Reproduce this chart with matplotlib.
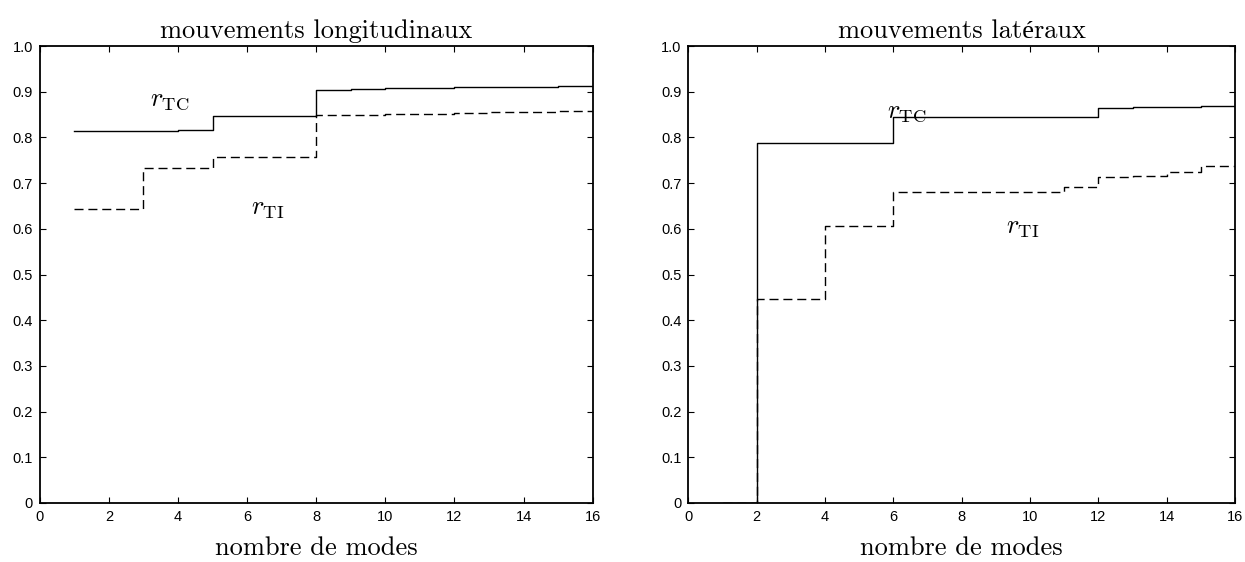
import matplotlib
matplotlib.use("Agg")
import matplotlib.pyplot as plt
import numpy as np

plt.rcParams['mathtext.fontset'] = 'cm'

modes = list(range(1, 17))

# mouvements longitudinaux
long_tc = [0.815, 0.815, 0.815, 0.816, 0.846, 0.846, 0.846, 0.904, 0.907, 0.909,
           0.909, 0.910, 0.911, 0.911, 0.912, 0.912]
long_ti = [0.643, 0.643, 0.733, 0.733, 0.757, 0.757, 0.757, 0.849, 0.850, 0.851,
           0.852, 0.853, 0.855, 0.856, 0.858, 0.858]

# mouvements latéraux
lat_tc = [0.0, 0.787, 0.787, 0.787, 0.787, 0.844, 0.844, 0.844, 0.844, 0.844,
          0.844, 0.864, 0.866, 0.866, 0.868, 0.868]
lat_ti = [0.0, 0.447, 0.447, 0.607, 0.607, 0.681, 0.681, 0.681, 0.681, 0.681,
          0.692, 0.714, 0.715, 0.724, 0.737, 0.737]

titles = ["mouvements longitudinaux", "mouvements latéraux"]
xlabel = "nombre de modes"
xticks = list(range(0, 17, 2))
yticks = [round(0.1 * i, 1) for i in range(11)]
ytick_labels = ["0"] + ["%.1f" % v for v in yticks[1:]]

label_pos = [((3.2, 0.885), (6.1, 0.645)), ((5.8, 0.857), (9.3, 0.603))]

fig = plt.figure(figsize=(12.45, 5.62), dpi=100)
axes = [fig.add_axes([0.032, 0.105, 0.444, 0.813]),
        fig.add_axes([0.553, 0.105, 0.439, 0.813])]

serif = ['cmr10', 'Liberation Serif', 'DejaVu Serif']
data = [(long_tc, long_ti), (lat_tc, lat_ti)]
for ax, title, (tc, ti), (ptc, pti) in zip(axes, titles, data, label_pos):
    ax.step(modes, tc, where='post', color='black', lw=1.0)
    l, = ax.step(modes, ti, where='post', color='black', lw=1.0)
    l.set_dashes((6.5, 3.5))
    ax.set_xlim(0, 16)
    ax.set_ylim(0, 1.0)
    ax.set_xticks(xticks)
    ax.set_yticks(yticks)
    ax.set_yticklabels(ytick_labels)
    ax.tick_params(direction='in', top=True, right=True, length=4, width=0.8,
                   labelsize=10.5, pad=5)
    for lab in ax.get_xticklabels() + ax.get_yticklabels():
        lab.set_fontfamily('Liberation Sans')
    for s in ax.spines.values():
        s.set_linewidth(1.3)
        s.set_zorder(3)
    ax.set_title(title, fontsize=19, family=serif, pad=6)
    ax.set_xlabel(xlabel, fontsize=19, family=serif, labelpad=9)
    ax.text(ptc[0], ptc[1], r'$r_{\rm TC}$', fontsize=19, ha='left', va='center')
    ax.text(pti[0], pti[1], r'$r_{\rm TI}$', fontsize=19, ha='left', va='center')

fig.savefig("out.png", dpi=100)
